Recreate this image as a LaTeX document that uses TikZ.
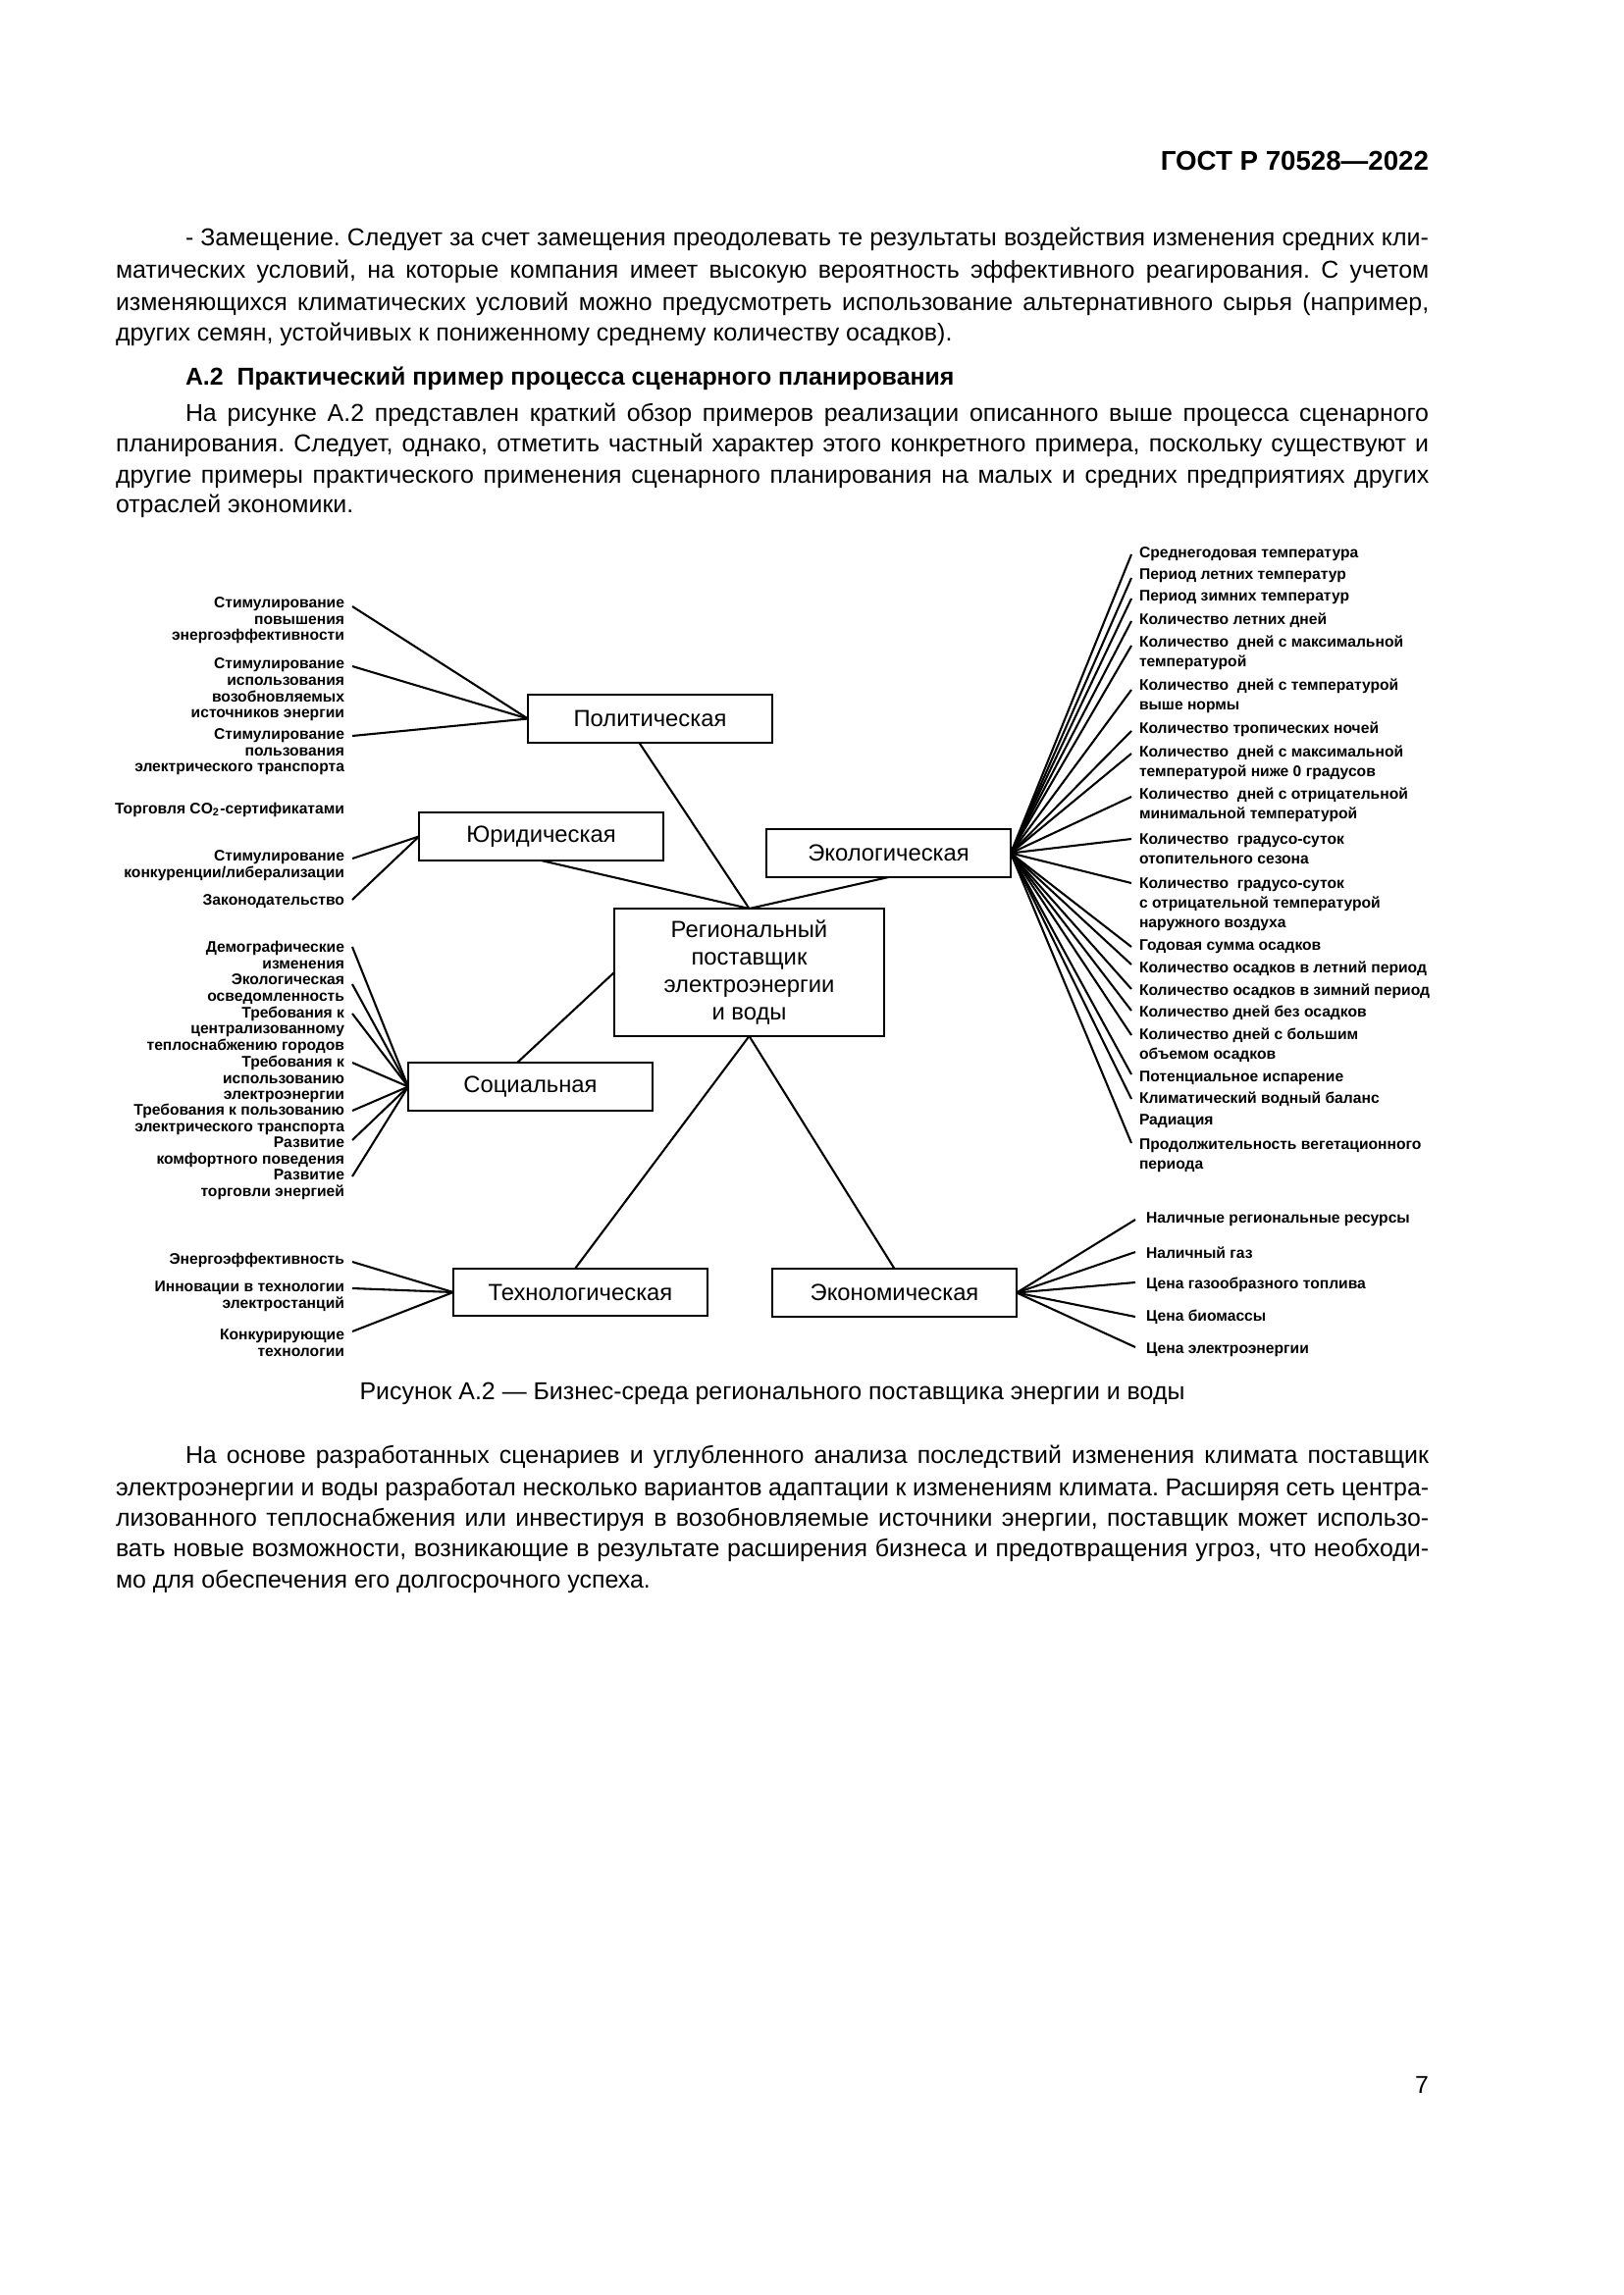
\documentclass[tikz,border=0pt]{standalone}
\usepackage{fontspec}
\setmainfont{Liberation Sans}
\frenchspacing
\begin{document}
\begin{tikzpicture}[x=0.12697mm,y=-0.12697mm,
  every node/.style={inner sep=0pt, outer sep=0pt},
  box/.style={draw, line width=1pt, font=\fontsize{8.6}{10.2}\selectfont, align=center, minimum width=31.62mm, minimum height=6.22mm},
  link/.style={line width=0.75pt},
  ll/.style={anchor=east, align=right, font=\fontsize{5.65}{6}\selectfont\bfseries},
  rl/.style={anchor=west, align=left, font=\fontsize{5.65}{7.2}\selectfont\bfseries},
  body/.style={anchor=base west, font=\fontsize{9}{11}\selectfont},
]
\useasboundingbox (0,0) rectangle (1654,2339);
\fill[white] (0,0) rectangle (1654,2339);

% ---------- page text ----------
\node[anchor=base east, font=\fontsize{10}{12}\selectfont\bfseries] (hdr) at (1456,173) {ГОСТ Р 70528—2022};

\node[body] (p1a) at (189,250) {\makebox[160.87mm][s]{- Замещение. Следует за счет замещения преодолевать те результаты воздействия изменения средних кли-}};
\node[body] (p1b) at (118,283) {\makebox[169.9mm][s]{матических условий, на которые компания имеет высокую вероятность эффективного реагирования. С учетом}};
\node[body] (p1c) at (118,316) {\makebox[169.9mm][s]{изменяющихся климатических условий можно предусмотреть использование альтернативного сырья (например,}};
\node[body] (p1d) at (118,347) {других семян, устойчивых к пониженному среднему количеству осадков).};

\node[body, font=\fontsize{9}{11}\selectfont\bfseries] (hd) at (189,392) {А.2\ \ Практический пример процесса сценарного планирования};

\node[body] (p2a) at (189,429) {\makebox[160.87mm][s]{На рисунке А.2 представлен краткий обзор примеров реализации описанного выше процесса сценарного}};
\node[body] (p2b) at (118,460) {\makebox[169.9mm][s]{планирования. Следует, однако, отметить частный характер этого конкретного примера, поскольку существуют и}};
\node[body] (p2c) at (118,492) {\makebox[169.9mm][s]{другие примеры практического применения сценарного планирования на малых и средних предприятиях других}};
\node[body] (p2d) at (118,522) {отраслей экономики.};

\node[anchor=base, font=\fontsize{9}{11}\selectfont] (cap) at (787,1426) {Рисунок А.2 — Бизнес-среда регионального поставщика энергии и воды};

\node[body] (p3a) at (189,1491) {\makebox[160.87mm][s]{На основе разработанных сценариев и углубленного анализа последствий изменения климата поставщик}};
\node[body] (p3b) at (118,1524) {\makebox[169.9mm][s]{электроэнергии и воды разработал несколько вариантов адаптации к изменениям климата. Расширяя сеть центра-}};
\node[body] (p3c) at (118,1555) {\makebox[169.9mm][s]{лизованного теплоснабжения или инвестируя в возобновляемые источники энергии, поставщик может использо-}};
\node[body] (p3d) at (118,1586) {\makebox[169.9mm][s]{вать новые возможности, возникающие в результате расширения бизнеса и предотвращения угроз, что необходи-}};
\node[body] (p3e) at (118,1618) {мо для обеспечения его долгосрочного успеха.};

\node[anchor=base east, font=\fontsize{9}{11}\selectfont] (pg) at (1456,2133) {7};

% ---------- boxes ----------
\node[box] (pol) at (662.5,732.5) {Политическая};
\node[box] (jur) at (551.5,852.5) {Юридическая};
\node[box] (eco) at (905.5,869.5) {Экологическая};
\node[box, minimum width=34.92mm, minimum height=16.5mm] (cen) at (763.5,991) {Региональный\\поставщик\\электроэнергии\\и воды};
\node[box] (soc) at (540.5,1107.5) {Социальная};
\node[box, minimum width=32.9mm, minimum height=6.1mm] (tec) at (591.5,1317) {Технологическая};
\node[box] (ecn) at (911.5,1317.5) {Экономическая};

\draw[link] ([xshift=-1.4mm]pol.south) -- (cen.north);
\draw[link] (jur.south) -- (cen.north);
\draw[link] (eco.south) -- (cen.north);
\draw[link] (cen.west) -- ([xshift=-1.7mm]soc.north);
\draw[link] (cen.south) -- ([xshift=-0.7mm]tec.north);
\draw[link] (cen.south) -- (ecn.north);

% ---------- left labels: political ----------
\node[ll] (lp1) at (351,632.5) {Стимулирование\\повышения\\энергоэффективности};
\node[ll] (lp2) at (351,703) {Стимулирование\\использования\\возобновляемых\\источников энергии};
\node[ll] (lp3) at (351,766.5) {Стимулирование\\пользования\\электрического транспорта};
\coordinate (sp1) at (359,618);
\coordinate (sp2) at (359,679);
\coordinate (sp3) at (359,750);
\foreach \s in {sp1,sp2,sp3} \draw[link] (\s) -- (pol.west);

% ---------- legal ----------
\node[ll] (lj0) at (351,825) {Торговля CO\textsubscript{2}-сертификатами};
\node[ll] (lj1) at (351,882) {Стимулирование\\конкуренции/либерализации};
\node[ll] (lj2) at (351,919) {Законодательство};
\coordinate (sj1) at (359,875);
\coordinate (sj2) at (359,917);
\foreach \s in {sj1,sj2} \draw[link] (\s) -- (jur.west);

% ---------- social ----------
\node[ll] (ls1) at (351,973.5) {Демографические\\изменения};
\node[ll] (ls2) at (351,1008) {Экологическая\\осведомленность};
\node[ll] (ls3) at (351,1049.5) {Требования к\\централизованному\\теплоснабжению городов};
\node[ll] (ls4) at (351,1100) {Требования к\\использованию\\электроэнергии};
\node[ll] (ls5) at (351,1141) {Требования к пользованию\\электрического транспорта};
\node[ll] (ls6) at (351,1174.5) {Развитие\\комфортного поведения};
\node[ll] (ls7) at (351,1207.5) {Развитие\\торговли энергией};
\coordinate (ss1) at (359,965);
\coordinate (ss2) at (359,1003);
\coordinate (ss3) at (359,1033);
\coordinate (ss4) at (359,1083);
\coordinate (ss5) at (359,1132);
\coordinate (ss6) at (359,1162);
\coordinate (ss7) at (359,1199);
\foreach \s in {ss1,ss2,ss3,ss4,ss5,ss6,ss7} \draw[link] (\s) -- (soc.west);

% ---------- technological ----------
\node[ll] (lt1) at (351,1284) {Энергоэффективность};
\node[ll] (lt2) at (351,1321.5) {Инновации в технологии\\электростанций};
\node[ll] (lt3) at (351,1368.5) {Конкурирующие\\технологии};
\coordinate (st1) at (359,1286);
\coordinate (st2) at (359,1313);
\coordinate (st3) at (359,1357);
\foreach \s in {st1,st2,st3} \draw[link] (\s) -- (tec.west);

% ---------- ecological ----------
\node[rl] (le1) at (1161,565) {Среднегодовая температура};
\node[rl] (le2) at (1161,587) {Период летних температур};
\node[rl] (le3) at (1161,609) {Период зимних температур};
\node[rl] (le4) at (1161,632) {Количество летних дней};
\node[rl] (le5) at (1161,665) {Количество~~дней с максимальной\\температурой};
\node[rl] (le6) at (1161,709.5) {Количество~~дней с температурой\\выше нормы};
\node[rl] (le7) at (1161,743) {Количество тропических ночей};
\node[rl] (le8) at (1161,777) {Количество~~дней с максимальной\\температурой ниже 0 градусов};
\node[rl] (le9) at (1161,820) {Количество~~дней с отрицательной\\минимальной температурой};
\node[rl] (le10) at (1161,865) {Количество~~градусо-суток\\отопительного сезона};
\node[rl] (le11) at (1161,922) {Количество~~градусо-суток\\с отрицательной температурой\\наружного воздуха};
\node[rl] (le12) at (1161,965) {Годовая сумма осадков};
\node[rl] (le13) at (1161,987) {Количество осадков в летний период};
\node[rl] (le14) at (1161,1010) {Количество осадков в зимний период};
\node[rl] (le15) at (1161,1032) {Количество дней без осадков};
\node[rl] (le16) at (1161,1065) {Количество дней с большим\\объемом осадков};
\node[rl] (le17) at (1161,1099) {Потенциальное испарение};
\node[rl] (le18) at (1161,1120) {Климатический водный баланс};
\node[rl] (le19) at (1161,1143) {Радиация};
\node[rl] (le20) at (1161,1177.5) {Продолжительность вегетационного\\периода};
\coordinate (se1) at (1153,565);
\coordinate (se2) at (1153,589);
\coordinate (se3) at (1153,610);
\coordinate (se4) at (1153,633);
\coordinate (se5) at (1153,658);
\coordinate (se6) at (1153,703);
\coordinate (se7) at (1153,745);
\coordinate (se8) at (1153,768);
\coordinate (se9) at (1153,812);
\coordinate (se10) at (1153,855);
\coordinate (se11) at (1153,900);
\coordinate (se12) at (1153,965);
\coordinate (se13) at (1153,983);
\coordinate (se14) at (1153,1008);
\coordinate (se15) at (1153,1030);
\coordinate (se16) at (1153,1055);
\coordinate (se17) at (1153,1095);
\coordinate (se18) at (1153,1120);
\coordinate (se20) at (1153,1165);
\foreach \s in {se1,se2,se3,se4,se5,se6,se7,se8,se9,se10,se11,se12,se13,se14,se15,se16,se17,se18,se20} \draw[link] (eco.east) -- (\s);

% ---------- economic ----------
\node[rl] (lc1) at (1168,1243) {Наличные региональные ресурсы};
\node[rl] (lc2) at (1168,1277) {Наличный газ};
\node[rl] (lc3) at (1168,1309) {Цена газообразного топлива};
\node[rl] (lc4) at (1168,1342) {Цена биомассы};
\node[rl] (lc5) at (1168,1376) {Цена электроэнергии};
\coordinate (sc1) at (1157,1243);
\coordinate (sc2) at (1157,1276);
\coordinate (sc3) at (1157,1307);
\coordinate (sc4) at (1157,1342);
\coordinate (sc5) at (1157,1373);
\foreach \s in {sc1,sc2,sc3,sc4,sc5} \draw[link] (ecn.east) -- (\s);
\end{tikzpicture}
\end{document}
